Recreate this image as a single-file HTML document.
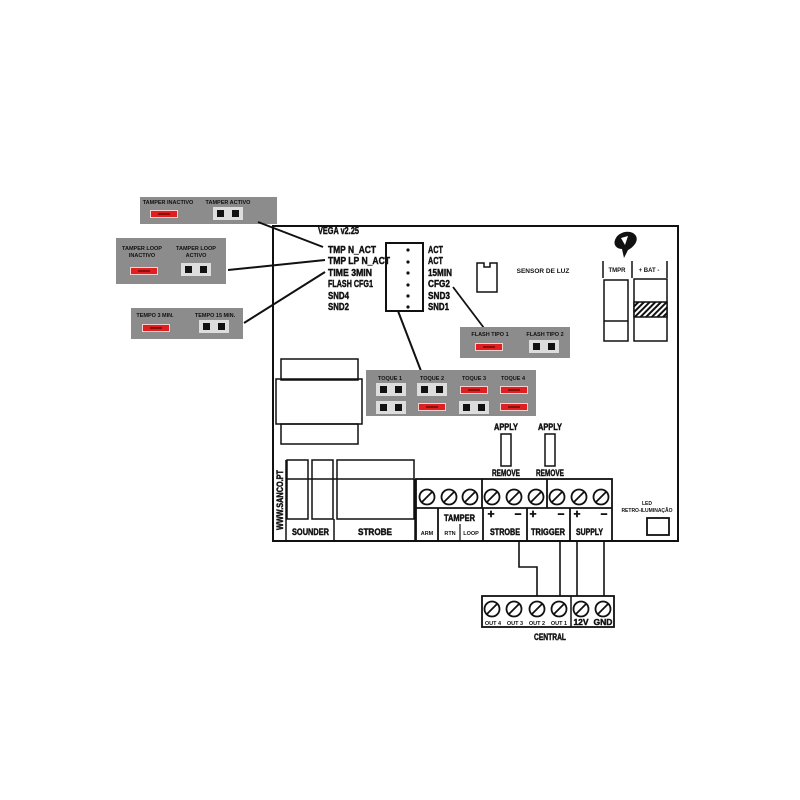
<!DOCTYPE html>
<html><head><meta charset="utf-8"><style>
html,body{margin:0;padding:0;background:#fff}
svg{display:block}
text{font-family:"Liberation Sans Narrow","Liberation Sans",sans-serif;font-weight:bold;fill:#111}
.hv text,text.hv{stroke:#111;stroke-width:0.45}
</style></head><body>
<svg width="800" height="800" viewBox="0 0 800 800" xmlns="http://www.w3.org/2000/svg">
<defs>
<pattern id="h" width="4" height="4" patternUnits="userSpaceOnUse" patternTransform="rotate(45)"><rect width="4" height="4" fill="#fff"/><rect width="2" height="4" fill="#111"/></pattern>
<g id="red"><rect x="0" y="0" width="28" height="8" fill="#f3d0d0"/><rect x="1" y="1" width="26" height="6" fill="#e02020"/><rect x="8" y="3" width="12" height="2" fill="#8a1010"/></g>
<g id="blk"><rect x="0" y="0" width="30" height="13" fill="#ddd"/><rect x="4" y="3" width="7" height="7" fill="#111"/><rect x="19" y="3" width="7" height="7" fill="#111"/></g>
<g id="scr"><circle r="7.5" fill="#fff" stroke="#111" stroke-width="1.8"/><line x1="-5" y1="5" x2="5" y2="-5" stroke="#111" stroke-width="1.8"/></g>
</defs>

<rect x="273" y="226" width="405" height="315" fill="none" stroke="#111" stroke-width="2"/>

<rect x="140" y="197" width="137" height="27" fill="#8c8c8c"/>
<text x="168" y="204" font-size="5.5" text-anchor="middle">TAMPER INACTIVO</text>
<use href="#red" x="150" y="210"/>
<text x="228" y="204" font-size="5.5" text-anchor="middle">TAMPER ACTIVO</text>
<use href="#blk" x="213" y="207"/>

<rect x="116" y="238" width="110" height="46" fill="#8c8c8c"/>
<text x="142" y="250" font-size="5.5" text-anchor="middle">TAMPER LOOP</text>
<text x="142" y="257" font-size="5.5" text-anchor="middle">INACTIVO</text>
<use href="#red" x="130" y="267"/>
<text x="196" y="250" font-size="5.5" text-anchor="middle">TAMPER LOOP</text>
<text x="196" y="257" font-size="5.5" text-anchor="middle">ACTIVO</text>
<use href="#blk" x="181" y="263"/>

<rect x="131" y="308" width="112" height="31" fill="#8c8c8c"/>
<text x="155" y="317" font-size="5.5" text-anchor="middle">TEMPO 3 MIN.</text>
<use href="#red" x="142" y="324"/>
<text x="215" y="317" font-size="5.5" text-anchor="middle">TEMPO 15 MIN.</text>
<use href="#blk" x="199" y="320"/>

<g stroke="#111" stroke-width="2">
<line x1="258" y1="222" x2="323" y2="247"/>
<line x1="228" y1="270" x2="325" y2="260"/>
<line x1="244" y1="323" x2="325" y2="272"/>
</g>

<g class="hv">
<text x="318" y="234" font-size="10" textLength="41" lengthAdjust="spacingAndGlyphs">VEGA v2.25</text>
<g font-size="10.5">
<text x="328" y="253" textLength="48" lengthAdjust="spacingAndGlyphs">TMP N_ACT</text>
<text x="328" y="264" textLength="62" lengthAdjust="spacingAndGlyphs">TMP LP N_ACT</text>
<text x="328" y="276" textLength="44" lengthAdjust="spacingAndGlyphs">TIME 3MIN</text>
<text x="328" y="287" textLength="45" lengthAdjust="spacingAndGlyphs">FLASH CFG1</text>
<text x="328" y="299" textLength="21" lengthAdjust="spacingAndGlyphs">SND4</text>
<text x="328" y="310" textLength="21" lengthAdjust="spacingAndGlyphs">SND2</text>
<text x="428" y="253" textLength="15" lengthAdjust="spacingAndGlyphs">ACT</text>
<text x="428" y="264" textLength="15" lengthAdjust="spacingAndGlyphs">ACT</text>
<text x="428" y="276" textLength="24" lengthAdjust="spacingAndGlyphs">15MIN</text>
<text x="428" y="287" textLength="22" lengthAdjust="spacingAndGlyphs">CFG2</text>
<text x="428" y="299" textLength="22" lengthAdjust="spacingAndGlyphs">SND3</text>
<text x="428" y="310" textLength="21" lengthAdjust="spacingAndGlyphs">SND1</text>
</g>
</g>
<rect x="386" y="243" width="37" height="68" fill="none" stroke="#111" stroke-width="2"/>
<g fill="#111"><circle cx="408" cy="250" r="1.6"/><circle cx="408" cy="262" r="1.6"/><circle cx="408" cy="273" r="1.6"/><circle cx="408" cy="285" r="1.6"/><circle cx="408" cy="296" r="1.6"/><circle cx="408" cy="307" r="1.6"/></g>
<line x1="398" y1="311" x2="421" y2="371" stroke="#111" stroke-width="2"/>
<line x1="453" y1="287" x2="484" y2="328" stroke="#111" stroke-width="1.8"/>

<path d="M477 263 H484 V267 H490 V263 H497 V292 H477 Z" fill="none" stroke="#111" stroke-width="1.5"/>
<text x="543" y="273" font-size="6.5" text-anchor="middle">SENSOR DE LUZ</text>

<rect x="460" y="327" width="110" height="31" fill="#8c8c8c"/>
<text x="490" y="336" font-size="5.5" text-anchor="middle">FLASH TIPO 1</text>
<use href="#red" x="475" y="343"/>
<text x="545" y="336" font-size="5.5" text-anchor="middle">FLASH TIPO 2</text>
<use href="#blk" x="529" y="340"/>

<path d="M615 240 C618 231 632 229 636 236 C639 242 632 248 628 250 L624 258 L622 249 C617 249 613 245 615 240 Z" fill="#111"/>
<path d="M621 238 L628 236 L625 245 Z" fill="#fff"/>
<g stroke="#111" stroke-width="1.5"><line x1="603" y1="261" x2="603" y2="278"/><line x1="632" y1="261" x2="632" y2="278"/><line x1="667" y1="261" x2="667" y2="278"/></g>
<text x="617" y="272" font-size="6" text-anchor="middle">TMPR</text>
<text x="649" y="272" font-size="6" text-anchor="middle">+ BAT -</text>
<rect x="604" y="280" width="24" height="61" fill="none" stroke="#111" stroke-width="1.5"/>
<line x1="604" y1="321" x2="628" y2="321" stroke="#111" stroke-width="1.5"/>
<rect x="634" y="279" width="33" height="62" fill="none" stroke="#111" stroke-width="1.5"/>
<rect x="634" y="302" width="33" height="15" fill="url(#h)" stroke="#111" stroke-width="1.5"/>

<g fill="none" stroke="#111" stroke-width="1.5">
<rect x="281" y="359" width="77" height="21"/>
<rect x="276" y="379" width="86" height="45"/>
<rect x="281" y="424" width="77" height="20"/>
</g>

<rect x="366" y="370" width="170" height="46" fill="#8c8c8c"/>
<g font-size="5.5" text-anchor="middle">
<text x="390" y="380">TOQUE 1</text><text x="432" y="380">TOQUE 2</text><text x="474" y="380">TOQUE 3</text><text x="513" y="380">TOQUE 4</text>
</g>
<use href="#blk" x="376" y="383"/><use href="#blk" x="376" y="401"/>
<use href="#blk" x="417" y="383"/><use href="#red" x="418" y="403"/>
<use href="#red" x="460" y="386"/><use href="#blk" x="459" y="401"/>
<use href="#red" x="500" y="386"/><use href="#red" x="500" y="403"/>

<g font-size="9.5" class="hv">
<text x="494" y="430" textLength="24" lengthAdjust="spacingAndGlyphs">APPLY</text>
<text x="538" y="430" textLength="24" lengthAdjust="spacingAndGlyphs">APPLY</text>
<text x="492" y="476" textLength="28" lengthAdjust="spacingAndGlyphs">REMOVE</text>
<text x="536" y="476" textLength="28" lengthAdjust="spacingAndGlyphs">REMOVE</text>
</g>
<rect x="501" y="434" width="10" height="32" fill="none" stroke="#111" stroke-width="1.5"/>
<rect x="545" y="434" width="10" height="32" fill="none" stroke="#111" stroke-width="1.5"/>

<g fill="none" stroke="#111" stroke-width="1.5">
<rect x="287" y="460" width="21" height="59"/>
<rect x="312" y="460" width="21" height="59"/>
<rect x="337" y="460" width="77" height="59"/>
<line x1="287" y1="479" x2="414" y2="479"/>
<line x1="286" y1="460" x2="286" y2="541"/>
<line x1="334" y1="519" x2="334" y2="541"/>
<line x1="415" y1="479" x2="415" y2="541"/>
</g>
<g class="hv">
<text transform="translate(283,500) rotate(-90)" font-size="9" text-anchor="middle" textLength="60" lengthAdjust="spacingAndGlyphs">WWW.SANCO.PT</text>
<text x="292" y="535" font-size="9" textLength="37" lengthAdjust="spacingAndGlyphs">SOUNDER</text>
<text x="358" y="535" font-size="9" textLength="34" lengthAdjust="spacingAndGlyphs">STROBE</text>
</g>

<g fill="none" stroke="#111" stroke-width="1.8">
<rect x="416" y="479" width="196" height="62"/>
<line x1="416" y1="508" x2="612" y2="508"/>
<line x1="482" y1="479" x2="482" y2="508"/>
<line x1="547" y1="479" x2="547" y2="508"/>
<line x1="438" y1="508" x2="438" y2="541"/>
<line x1="483" y1="508" x2="483" y2="541"/>
<line x1="527" y1="508" x2="527" y2="541"/>
<line x1="570" y1="508" x2="570" y2="541"/>
<line x1="460" y1="524" x2="460" y2="540" stroke-width="1.2"/>
</g>
<use href="#scr" x="427" y="497"/><use href="#scr" x="449" y="497"/><use href="#scr" x="470" y="497"/>
<use href="#scr" x="492" y="497"/><use href="#scr" x="514" y="497"/><use href="#scr" x="536" y="497"/>
<use href="#scr" x="557" y="497"/><use href="#scr" x="579" y="497"/><use href="#scr" x="601" y="497"/>
<text x="427" y="535" font-size="5.5" text-anchor="middle">ARM</text>
<text x="450" y="535" font-size="5.5" text-anchor="middle">RTN</text>
<text x="471" y="535" font-size="5.5" text-anchor="middle">LOOP</text>
<g font-size="9" class="hv">
<text x="444" y="521" textLength="31" lengthAdjust="spacingAndGlyphs">TAMPER</text>
<text x="490" y="535" textLength="30" lengthAdjust="spacingAndGlyphs">STROBE</text>
<text x="531" y="535" textLength="34" lengthAdjust="spacingAndGlyphs">TRIGGER</text>
<text x="576" y="535" textLength="27" lengthAdjust="spacingAndGlyphs">SUPPLY</text>
</g>
<g font-size="12" text-anchor="middle" class="hv">
<text x="491" y="518">+</text><text x="518" y="518">−</text>
<text x="533" y="518">+</text><text x="561" y="518">−</text>
<text x="577" y="518">+</text><text x="604" y="518">−</text>
</g>

<text x="647" y="505" font-size="5" text-anchor="middle">LED</text>
<text x="647" y="512" font-size="5" text-anchor="middle">RETRO-ILUMINAÇÃO</text>
<rect x="647" y="518" width="22" height="17" fill="none" stroke="#111" stroke-width="1.8"/>

<g fill="none" stroke="#111" stroke-width="1.6">
<polyline points="519,541 519,567 537,567 537,596"/>
<line x1="560" y1="541" x2="560" y2="596"/>
<line x1="577" y1="541" x2="577" y2="596"/>
<line x1="604" y1="541" x2="604" y2="596"/>
</g>

<rect x="482" y="596" width="132" height="31" fill="none" stroke="#111" stroke-width="1.8"/>
<line x1="571" y1="596" x2="571" y2="627" stroke="#111" stroke-width="1.5"/>
<use href="#scr" x="492" y="609"/><use href="#scr" x="514" y="609"/><use href="#scr" x="537" y="609"/>
<use href="#scr" x="559" y="609"/><use href="#scr" x="581" y="609"/><use href="#scr" x="603" y="609"/>
<g font-size="5.5" text-anchor="middle">
<text x="493" y="625">OUT 4</text><text x="515" y="625">OUT 3</text><text x="537" y="625">OUT 2</text><text x="559" y="625">OUT 1</text>
</g>
<g class="hv">
<text x="581" y="625" font-size="8.5" text-anchor="middle">12V</text>
<text x="603" y="625" font-size="8.5" text-anchor="middle">GND</text>
<text x="534" y="640" font-size="9" textLength="32" lengthAdjust="spacingAndGlyphs">CENTRAL</text>
</g>
</svg>
</body></html>
